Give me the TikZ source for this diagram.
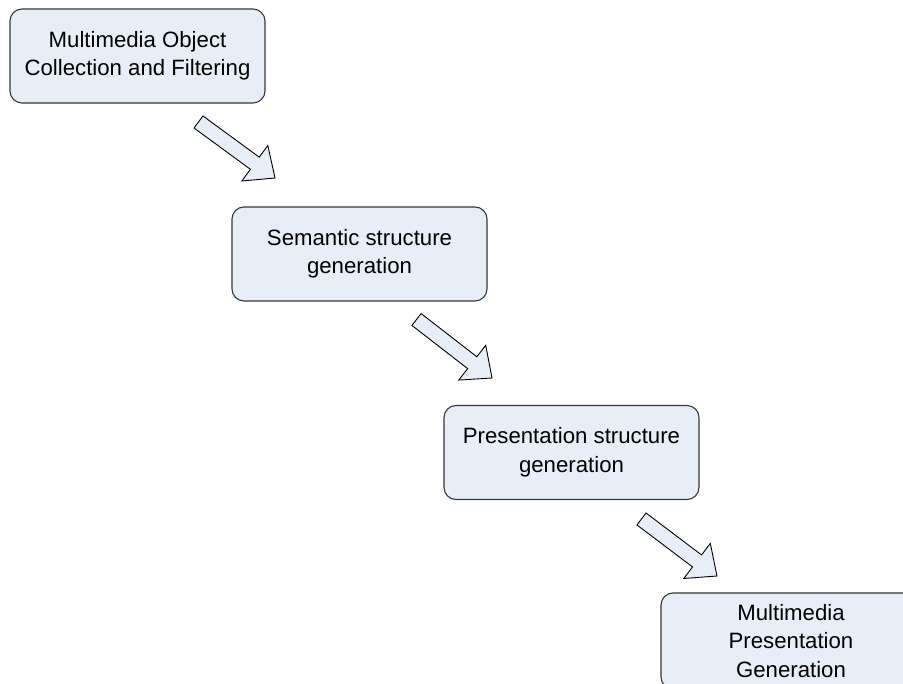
\documentclass[tikz,border=0pt]{standalone}
\usepackage{fontspec}
\setmainfont{Liberation Sans}
\usetikzlibrary{calc}
\definecolor{boxfill}{RGB}{232,238,248}
\definecolor{boxline}{RGB}{55,55,55}
\tikzset{
  stagebox/.style={draw=boxline, line width=1.1pt, fill=boxfill, rounded corners=12pt,
    minimum width=255pt, minimum height=94pt, inner sep=0pt, align=center,
    font=\fontsize{22.2}{28.5}\selectfont},
  blockarrow/.style={draw=black, line width=0.9pt, fill=boxfill, line join=miter},
}
% hollow block arrow from tail coordinate #1 to tip coordinate #2
\newcommand{\blockarrow}[2]{%
  \draw[blockarrow]
    ($(#1)!7.5pt!90:(#2)$) --
    ($($(#2)!25pt!(#1)$)!7.5pt!-90:(#1)$) --
    ($($(#2)!25pt!(#1)$)!22pt!-90:(#1)$) --
    (#2) --
    ($($(#2)!25pt!(#1)$)!22pt!90:(#1)$) --
    ($($(#2)!25pt!(#1)$)!7.5pt!90:(#1)$) --
    ($(#1)!7.5pt!-90:(#2)$) -- cycle;}
\begin{document}
\begin{tikzpicture}[x=1pt, y=-1pt]
\useasboundingbox (0,0) rectangle (903,684);
\clip (0,0) rectangle (903,684);

\node[stagebox] (collect) at (137.5,56) {Multimedia Object\\Collection and Filtering};
\node[stagebox] (semantic) at (359.5,254) {Semantic structure\\generation};
\node[stagebox] (present) at (571.5,452.5) {Presentation structure\\generation};
\node[stagebox, minimum width=260pt, minimum height=96pt] (generate) at (791,641) {Multimedia\\Presentation\\Generation};

\coordinate (a1t) at (198.5,122);
\coordinate (a1h) at (275,178);
\coordinate (a2t) at (416.5,319.5);
\coordinate (a2h) at (492,378);
\coordinate (a3t) at (641.5,519);
\coordinate (a3h) at (717,576);

\blockarrow{a1t}{a1h}
\blockarrow{a2t}{a2h}
\blockarrow{a3t}{a3h}
\end{tikzpicture}
\end{document}
